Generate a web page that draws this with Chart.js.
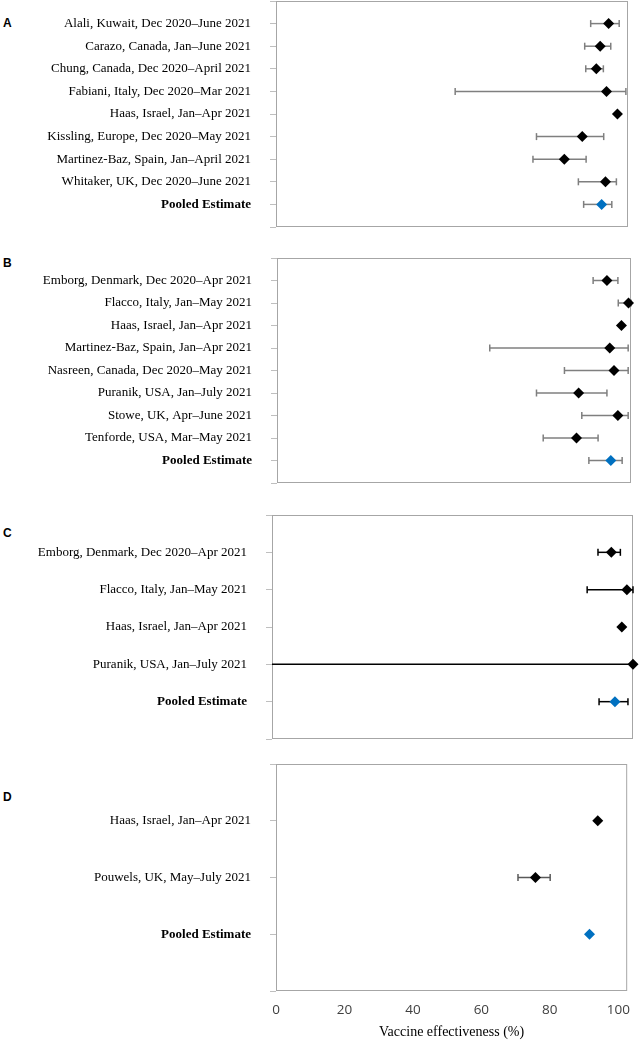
<!DOCTYPE html>
<html>
<head>
<meta charset="utf-8">
<script src="https://cdn.jsdelivr.net/npm/chart.js@4.4.1/dist/chart.umd.min.js"></script>
<style>
  body { margin: 0; background: #fff; width: 641px; height: 1043px; position: relative; overflow: hidden; }
  canvas { position: absolute; left: 0; }
  .tag { position: absolute; left: 3px; font: bold 12px "Liberation Sans", Arial, sans-serif; color: #000; }
</style>
</head>
<body>
<div class="tag" style="top:16px">A</div>
<div class="tag" style="top:256px">B</div>
<div class="tag" style="top:526px">C</div>
<div class="tag" style="top:790px">D</div>
<canvas id="chartA" width="641" height="246" style="top:-9px"></canvas>
<canvas id="chartB" width="641" height="245" style="top:248px"></canvas>
<canvas id="chartC" width="641" height="244" style="top:505px"></canvas>
<canvas id="chartD" width="641" height="289" style="top:754px"></canvas>
<script>
// Panel A
const studiesA = ['Alali, Kuwait, Dec 2020–June 2021', 'Carazo, Canada, Jan–June 2021', 'Chung, Canada, Dec 2020–April 2021',
  'Fabiani, Italy, Dec 2020–Mar 2021', 'Haas, Israel, Jan–Apr 2021', 'Kissling, Europe, Dec 2020–May 2021',
  'Martinez-Baz, Spain, Jan–April 2021', 'Whitaker, UK, Dec 2020–June 2021', 'Pooled Estimate'];
const veA = [94.5, 92.1, 91.0, 93.9, 97.0, 87.0, 81.9, 93.6, 92.5];
const lowA = [89.4, 87.7, 88.0, 50.9, null, 74.0, 73.0, 85.9, 87.4];
const highA = [97.5, 95.1, 93.0, 99.4, null, 93.1, 88.1, 96.7, 95.4];

// Panel B
const studiesB = ['Emborg, Denmark, Dec 2020–Apr 2021', 'Flacco, Italy, Jan–May 2021', 'Haas, Israel, Jan–Apr 2021',
  'Martinez-Baz, Spain, Jan–Apr 2021', 'Nasreen, Canada, Dec 2020–May 2021', 'Puranik, USA, Jan–July 2021',
  'Stowe, UK, Apr–June 2021', 'Tenforde, USA, Mar–May 2021', 'Pooled Estimate'];
const veB = [93.2, 99.3, 97.3, 94.0, 95.2, 85.2, 96.3, 84.6, 94.3];
const lowB = [89.3, 96.4, null, 60.1, 81.2, 73.3, 86.1, 75.2, 88.1];
const highB = [96.3, 100, null, 99.2, 99.2, 93.2, 99.2, 90.7, 97.5];

// Panel C
const studiesC = ['Emborg, Denmark, Dec 2020–Apr 2021', 'Flacco, Italy, Jan–May 2021', 'Haas, Israel, Jan–Apr 2021',
  'Puranik, USA, Jan–July 2021', 'Pooled Estimate'];
const veC = [94.0, 98.3, 96.9, 100, 95.0];
const lowC = [90.3, 87.3, null, 0, 90.6];
const highC = [96.5, 100, null, 100, 98.6];

// Panel D
const studiesD = ['Haas, Israel, Jan–Apr 2021', 'Pouwels, UK, May–July 2021', 'Pooled Estimate'];
const veD = [94.0, 75.8, 91.6];
const lowD = [null, 70.7, null];
const highD = [null, 80.1, null];

const xTickValues = [0, 20, 40, 60, 80, 100];
const xTitle = 'Vaccine effectiveness (%)';

const serif = '"Liberation Serif", "Times New Roman", serif';

// draws the grey frame round the plot area
const frame = {
  id: 'frame',
  beforeDatasetsDraw(chart) {
    const a = chart.chartArea;
    const c = chart.ctx;
    c.save();
    c.strokeStyle = '#a6a6a6';
    c.lineWidth = 1;
    c.strokeRect(a.left + 0.5, a.top + 0.5, a.right - a.left - 1, a.bottom - a.top - 1);
    c.restore();
  }
};

function forest(id, labels, ve, low, high, o) {
  const n = labels.length;
  const datasets = [{
    data: ve.map((v, i) => ({ x: v, y: i + 1 })),
    pointStyle: 'rectRot',
    pointRadius: 5.5,
    pointBackgroundColor: ve.map((v, i) => i === n - 1 ? '#0070c0' : '#000'),
    pointBorderColor: ve.map((v, i) => i === n - 1 ? '#0070c0' : '#000'),
    pointBorderWidth: 0,
    showLine: false,
    clip: false,
    order: 1
  }];
  for (let i = 0; i < n; i++) {
    if (low[i] === null) continue;
    datasets.push({
      data: [{ x: low[i], y: i + 1 }, { x: high[i], y: i + 1 }],
      showLine: true,
      borderColor: o.barColor,
      borderWidth: 1.5,
      pointStyle: 'line',
      rotation: 90,
      pointRadius: ctx => ctx.raw && ctx.raw.x <= 0 ? 0 : 3.5,
      pointBorderColor: o.barColor,
      pointBorderWidth: 1.5,
      clip: false,
      order: 2
    });
  }

  new Chart(document.getElementById(id), {
    type: 'scatter',
    data: { datasets: datasets },
    plugins: [frame],
    options: {
      responsive: false,
      animation: false,
      events: [],
      layout: { padding: { top: 10, bottom: o.showX ? 0 : 10, left: 0, right: 641 - o.right } },
      plugins: { legend: { display: false }, tooltip: { enabled: false } },
      scales: {
        x: {
          type: 'linear',
          min: 0,
          max: o.xmax,
          display: o.showX,
          grid: { display: false, drawTicks: false },
          border: { display: false },
          afterBuildTicks: s => { s.ticks = xTickValues.map(v => ({ value: v })); },
          ticks: {
            includeBounds: false,
            padding: 11,
            color: '#404040',
            font: { family: '"Open Sans", "Liberation Sans", sans-serif', size: 13.5 }
          },
          title: {
            display: o.showX,
            text: xTitle,
            color: '#000',
            font: { family: serif, size: 14 },
            padding: { top: 0, bottom: 2 }
          },
          afterFit: s => { if (o.showX) s.height = 52; }
        },
        y: {
          type: 'linear',
          reverse: true,
          min: 0,
          max: n + 1,
          afterFit: s => { s.width = o.left; s.paddingTop = 0; s.paddingBottom = 0; },
          grid: { drawOnChartArea: false, drawTicks: true, tickLength: 6, color: '#bfbfbf' },
          border: { display: false },
          ticks: {
            stepSize: 1,
            autoSkip: false,
            padding: 19,
            color: '#000',
            callback: v => labels[v - 1] || '',
            font: ctx => ({ family: serif, size: 13, weight: ctx.tick && ctx.tick.value === n ? 'bold' : 'normal' })
          }
        }
      }
    }
  });
}

forest('chartA', studiesA, veA, lowA, highA, { left: 276, right: 628, xmax: 100, showX: false, barColor: '#7f7f7f' });
forest('chartB', studiesB, veB, lowB, highB, { left: 277, right: 631, xmax: 100, showX: false, barColor: '#7f7f7f' });
forest('chartC', studiesC, veC, lowC, highC, { left: 272, right: 633, xmax: 100, showX: false, barColor: '#000' });
forest('chartD', studiesD, veD, lowD, highD, { left: 276, right: 637, xmax: 102.6, showX: true, barColor: '#595959' });
</script>
</body>
</html>
